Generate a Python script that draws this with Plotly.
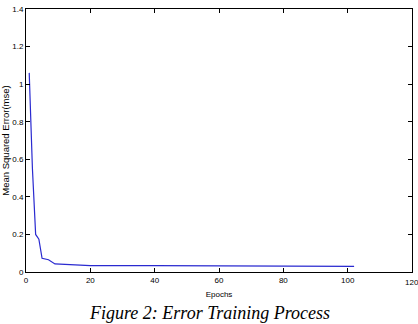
import plotly.graph_objects as go

epochs = [1, 2, 3, 4, 5, 7, 9, 12, 15, 17, 20, 40, 60, 80, 100, 102]
mse = [1.06, 0.55, 0.20, 0.175, 0.073, 0.065, 0.043, 0.040, 0.038, 0.034, 0.034, 0.034, 0.034, 0.034, 0.034, 0.030]

x_ticks = [0, 20, 40, 60, 80, 100, 120]
x_labels = ["0", "20", "40", "60", "80", "100", "120"]
y_ticks = [0, 0.2, 0.4, 0.6, 0.8, 1, 1.2, 1.4]
y_labels = ["0", "0.2", "0.4", "0.6", "0.8", "1", "1.2", "1.4"]

fig = go.Figure()
fig.add_trace(go.Scatter(x=epochs, y=mse, mode="lines",
                         line=dict(color="#2a2ad0", width=1.2), showlegend=False))

axfont = dict(family="Liberation Sans Narrow, Arial Narrow, Liberation Sans, sans-serif", size=8, color="black")
fig.update_layout(
    width=418, height=324,
    margin=dict(l=23, r=5, t=5, b=52),
    paper_bgcolor="white", plot_bgcolor="white",
    xaxis=dict(range=[0, 120], tickvals=x_ticks[:-1], ticktext=x_labels[:-1], ticks="inside", ticklen=4,
               tickcolor="black", showline=True, linecolor="black", linewidth=1, mirror="ticks",
               showgrid=False, zeroline=False, tickfont=axfont,
               title=dict(text="Epochs", font=axfont, standoff=7)),
    yaxis=dict(range=[0, 1.4], tickvals=y_ticks, ticktext=y_labels, ticks="inside", ticklen=4,
               tickcolor="black", showline=True, linecolor="black", linewidth=1, mirror="ticks",
               showgrid=False, zeroline=False, tickfont=axfont,
               title=dict(text="Mean Squared Error(mse)",
                          font=dict(family="Liberation Sans, Arial, sans-serif", size=9.5, color="black"),
                          standoff=1)),
    annotations=[
        dict(text=x_labels[-1], xref="x", yref="paper", x=x_ticks[-1], y=0, yshift=-4,
             xanchor="center", yanchor="top", showarrow=False, font=axfont),
        dict(text="<i>Figure 2: Error Training Process</i>", xref="paper", yref="paper",
             x=0.475, y=-0.155, xanchor="center", yanchor="middle", showarrow=False,
             font=dict(family="Liberation Serif, Times New Roman, serif", size=18, color="black")),
    ],
)

fig.write_html("out.html")
